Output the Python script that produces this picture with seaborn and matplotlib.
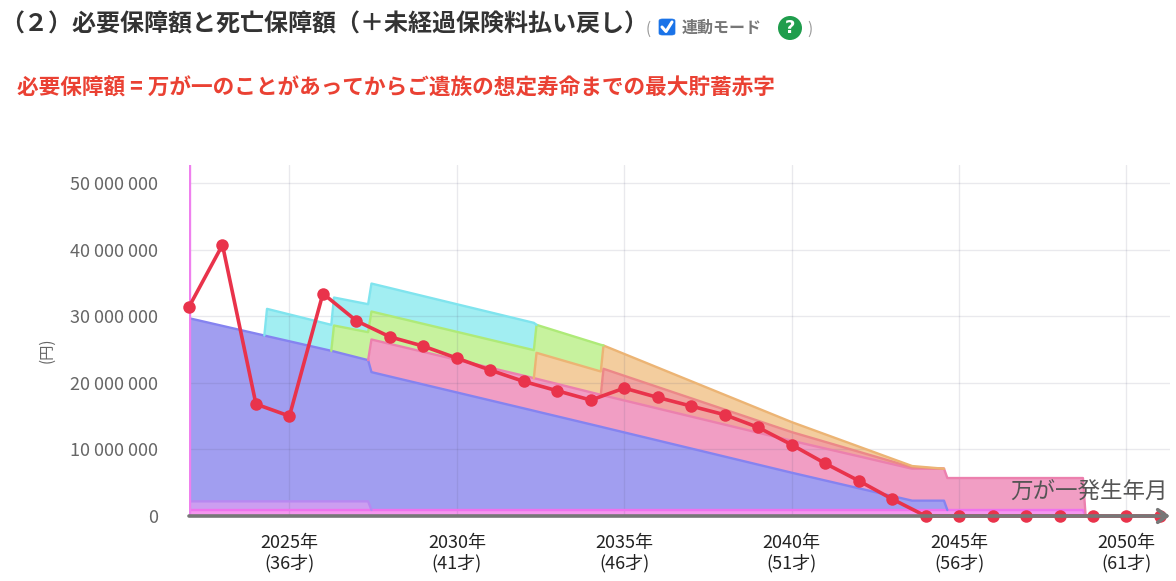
import numpy as np
import matplotlib
matplotlib.use("Agg")
import matplotlib.pyplot as plt
import seaborn as sns
from matplotlib.patches import FancyBboxPatch, Ellipse
from matplotlib.lines import Line2D

# ---------------- data ----------------
years = list(range(2022, 2052))
required_m = [31.4, 40.7, 16.8, 15.0, 33.4, 29.3, 26.9, 25.5, 23.7, 21.9,
              20.2, 18.8, 17.4, 19.2, 17.8, 16.5, 15.2, 13.3, 10.7, 7.9,
              5.3, 2.55, 0, 0, 0, 0, 0, 0, 0, 0]          # 百万円

# breakpoints (fractional years) of the stacked death-benefit layers
x_break = [2022.0, 2024.25, 2024.33, 2026.25, 2026.33, 2027.35, 2027.45,
           2032.3, 2032.38, 2034.3, 2034.38, 2040.0, 2043.6, 2044.55,
           2044.65, 2048.7, 2048.78]
layer_magenta = [0.9] * 16 + [0]
layer_purple = [1.3] * 6 + [0] * 11
layer_blue = [27.5, 24.9, 24.8, 22.6, 22.5, 21.2, 20.7, 14.9, 14.8, 12.5,
              12.4, 5.6, 1.4, 1.4, 0, 0, 0]
layer_pink = [0] * 6 + [4.9, 4.9, 4.9, 4.8, 4.8, 4.8, 4.8, 4.8, 4.8, 4.8, 0]
layer_salmon = [0] * 10 + [4.0, 1.3, 0.2, 0, 0, 0, 0]
layer_orange = [0] * 8 + [3.9, 3.5, 3.5, 1.5, 0.2, 0, 0, 0, 0]
layer_green = [0] * 4 + [3.9, 4.2, 4.2, 4.2, 4.2, 4.0] + [0] * 7
layer_cyan = [0, 0, 4.1, 3.9, 4.2, 4.2, 4.2, 4.1] + [0] * 9

ytick_vals = [0, 10_000_000, 20_000_000, 30_000_000, 40_000_000, 50_000_000]
ytick_labels = ["0", "10 000 000", "20 000 000", "30 000 000",
                "40 000 000", "50 000 000"]
xtick_years = [2025, 2030, 2035, 2040, 2045, 2050]
xtick_labels = ["2025年\n(36才)", "2030年\n(41才)", "2035年\n(46才)",
                "2040年\n(51才)", "2045年\n(56才)", "2050年\n(61才)"]

title = "（２）必要保障額と死亡保障額（＋未経過保険料払い戻し）"
subtitle = "必要保障額 = 万が一のことがあってからご遺族の想定寿命までの最大貯蓄赤字"

# ---------------- style ----------------
sns.set_theme(style="white")
plt.rcParams["font.family"] = ["Noto Sans CJK JP", "DejaVu Sans"]

W, H = 1176, 581
fig = plt.figure(figsize=(W / 100, H / 100), dpi=100)


def fx(px):
    return px / W


def fy(py):
    return 1 - py / H


ax = fig.add_axes([fx(189), fy(516), fx(1170) - fx(189), fy(165) - fy(516)])
ax.set_xlim(2022.0, 2051.3)
ax.set_ylim(0, 52.7e6)

layers = [
    (layer_magenta, "#f596ef", "#ef72ee"),
    (layer_purple, "#cc9ef0", "#b888f0"),
    (layer_blue, "#a19ef0", "#8583f0"),
    (layer_pink, "#f19ec4", "#ec80ae"),
    (layer_salmon, "#f1a4a0", "#ec8888"),
    (layer_orange, "#f3cd9e", "#ecb474"),
    (layer_green, "#c7f29e", "#aeea78"),
    (layer_cyan, "#a2eef2", "#80e4ee"),
]

xb = np.array(x_break)
lower = np.zeros(len(xb))
tops = []
for th, fc, ec in layers:
    th = np.array(th, dtype=float) * 1e6
    upper = lower + th
    ax.fill_between(xb, lower, upper, color=fc, lw=0, zorder=1)
    n = len(th)
    active = np.array([th[i] > 0 or (i > 0 and th[i - 1] > 0) or
                       (i < n - 1 and th[i + 1] > 0) for i in range(n)])
    tops.append((np.ma.masked_where(~active, upper), ec))
    lower = upper
for yl, ec in tops:
    ax.plot(xb, yl, color=ec, lw=1.7, zorder=3, solid_joinstyle="round")

# grid above fills (semi-transparent, like the original)
ax.set_axisbelow(False)
ax.grid(True, color="#55557a", alpha=0.13, lw=1)

# start-marker vertical line
ax.axvline(2022.0, color="#ef80ee", lw=2.4, zorder=3.5)

# required coverage line
sns.lineplot(x=years, y=np.array(required_m) * 1e6, ax=ax, color="#e9334b",
             lw=2.6, marker="o", markersize=9, markeredgewidth=0,
             zorder=5, clip_on=False)

# x axis with arrow
ax.annotate("", xy=(1.0, 0), xytext=(0, 0), xycoords="axes fraction",
            textcoords="axes fraction",
            arrowprops=dict(arrowstyle="->,head_length=0.55,head_width=0.38",
                            color="#777777", lw=2.6, shrinkA=0, shrinkB=0),
            zorder=6, annotation_clip=False)

for s in ax.spines.values():
    s.set_visible(False)

ax.set_yticks(ytick_vals)
ax.set_yticklabels(ytick_labels)
ax.set_xticks(xtick_years)
ax.set_xticklabels(xtick_labels, linespacing=1.1)
ax.tick_params(axis="y", length=7, width=1, color="#e4e4e4",
               labelcolor="#666666", labelsize=13, pad=15)
ax.tick_params(axis="x", length=11, width=1, color="#dcdcec",
               labelcolor="#222222", labelsize=13, pad=2)
ax.set_xlabel("")
ax.set_ylabel("")

fig.text(fx(47), fy(350), "(円)", rotation=90, color="#666666",
         fontsize=11, ha="center", va="center")
fig.text(fx(1168), fy(492), "万が一発生年月", color="#555555",
         fontsize=16.2, ha="right", va="center", zorder=10)

# header texts
fig.text(fx(0), fy(25), title, fontsize=17.3, fontweight="bold",
         color="#333333", ha="left", va="center")
fig.text(fx(646), fy(29), "(", fontsize=11, color="#999999",
         ha="left", va="center")
fig.text(fx(682), fy(28), "連動モード", fontsize=11.5, fontweight="bold",
         color="#777777", ha="left", va="center")
fig.text(fx(807), fy(29), ")", fontsize=11, color="#999999",
         ha="left", va="center")
fig.text(fx(17), fy(88), subtitle, fontsize=15.6, fontweight="bold",
         color="#ea4133", ha="left", va="center")

# checkbox
cb = FancyBboxPatch((fx(659), fy(35)), fx(16), fy(19) - fy(35),
                    boxstyle="round,pad=0,rounding_size=0.003",
                    transform=fig.transFigure, facecolor="#1a73e8",
                    edgecolor="#1a73e8", lw=0.5)
fig.add_artist(cb)
fig.add_artist(Line2D([fx(662), fx(666), fx(672)], [fy(27), fy(31.5), fy(22)],
                      transform=fig.transFigure, color="white", lw=2.2,
                      solid_capstyle="round", solid_joinstyle="round"))
# help icon
fig.add_artist(Ellipse((fx(790), fy(28)), 24 / W, 24 / H,
                       transform=fig.transFigure,
                       facecolor="#1f9d4c", edgecolor="none"))
fig.text(fx(790), fy(28), "?", fontsize=13, fontweight="bold",
         color="white", ha="center", va="center", family=["DejaVu Sans"])

fig.savefig("out.png", dpi=100)
